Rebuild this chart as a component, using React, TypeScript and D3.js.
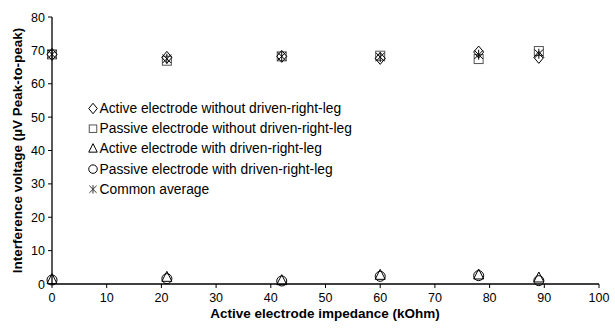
import React from "react";
import * as d3 from "d3";

const impedance = [0, 21, 42, 60, 78, 89];
const activeNoDRL = [68.8, 67.9, 68.2, 67.6, 69.5, 67.9];
const passiveNoDRL = [68.8, 66.9, 68.2, 68.4, 67.4, 69.8];
const activeDRL = [1.3, 2.0, 1.0, 2.6, 2.7, 1.8];
const passiveDRL = [1.2, 1.6, 0.9, 2.3, 2.5, 1.0];
const commonAverage = [68.8, 67.5, 68.2, 68.0, 68.7, 69.0];

const xTicks = [0, 10, 20, 30, 40, 50, 60, 70, 80, 90, 100];
const yTicks = [0, 10, 20, 30, 40, 50, 60, 70, 80];

const legendLabels = [
  "Active electrode without driven-right-leg",
  "Passive electrode without driven-right-leg",
  "Active electrode with driven-right-leg",
  "Passive electrode with driven-right-leg",
  "Common average",
];

type Kind = "diamond" | "square" | "triangle" | "circle" | "star";

const series: { kind: Kind; values: number[]; color: string }[] = [
  { kind: "square", values: passiveNoDRL, color: "#555" },
  { kind: "diamond", values: activeNoDRL, color: "#000" },
  { kind: "circle", values: passiveDRL, color: "#000" },
  { kind: "triangle", values: activeDRL, color: "#000" },
  { kind: "star", values: commonAverage, color: "#000" },
];

const legendKinds: Kind[] = ["diamond", "square", "triangle", "circle", "star"];
const legendColors = ["#000", "#555", "#000", "#000", "#333"];

function Marker({ kind, x, y, color, s = 1 }: { kind: Kind; x: number; y: number; color: string; s?: number }) {
  const r = 5 * s;
  const common = { fill: "none", stroke: color, strokeWidth: 1 };
  if (kind === "square") return <rect x={x - r + 0.5} y={y - r + 0.5} width={2 * r - 1} height={2 * r - 1} {...common} />;
  if (kind === "diamond") return <path d={`M${x},${y - r - 1}L${x + r},${y}L${x},${y + r + 1}L${x - r},${y}Z`} {...common} />;
  if (kind === "circle") return <circle cx={x} cy={y} r={r} {...common} />;
  if (kind === "triangle") return <path d={`M${x},${y - r - 1}L${x + r},${y + r - 1}L${x - r},${y + r - 1}Z`} {...common} />;
  const a = r * 0.85;
  return (
    <path
      d={`M${x - a},${y - a}L${x + a},${y + a}M${x - a},${y + a}L${x + a},${y - a}M${x},${y - r}L${x},${y + r}`}
      {...common}
    />
  );
}

export default function App() {
  const x = d3.scaleLinear().domain([0, 100]).range([52, 599]);
  const y = d3.scaleLinear().domain([0, 80]).range([284, 17]);
  const font = "Arial, 'Liberation Sans', sans-serif";
  return (
    <svg width={615} height={329} style={{ position: "absolute", left: 0, top: 0, background: "#fff" }} fontFamily={font}>
      <rect width={615} height={329} fill="#fff" />
      <line x1={x(0)} x2={x(100)} y1={y(0)} y2={y(0)} stroke="#000" strokeWidth={1.3} />
      <line x1={x(0)} x2={x(0)} y1={y(0)} y2={y(80)} stroke="#000" strokeWidth={1.3} />
      {xTicks.map((t) => (
        <g key={"x" + t}>
          <line x1={x(t)} x2={x(t)} y1={y(0)} y2={y(0) + 4} stroke="#000" />
          <text x={x(t)} y={y(0) + 18} textAnchor="middle" fontSize={12.5}>
            {t}
          </text>
        </g>
      ))}
      {yTicks.map((t) => (
        <g key={"y" + t}>
          <line x1={x(0) - 4} x2={x(0)} y1={y(t)} y2={y(t)} stroke="#000" />
          <text x={x(0) - 7} y={y(t) + 4.5} textAnchor="end" fontSize={12.5}>
            {t}
          </text>
        </g>
      ))}
      <text x={325} y={318} textAnchor="middle" fontSize={13.5} fontWeight="bold">
        Active electrode impedance (kOhm)
      </text>
      <text
        transform={`translate(22,${y(40)}) rotate(-90)`}
        textAnchor="middle"
        fontSize={13.5}
        fontWeight="bold"
      >
        Interference voltage (µV Peak-to-peak)
      </text>
      {series.map((s) =>
        s.values.map((v, i) => (
          <Marker key={s.kind + i} kind={s.kind} x={x(impedance[i])} y={y(v)} color={s.color} />
        ))
      )}
      {legendLabels.map((lab, i) => (
        <g key={lab}>
          <Marker kind={legendKinds[i]} x={93} y={113 + i * 20.2 - 4.5} color={legendColors[i]} s={0.85} />
          <text x={99.5} y={113 + i * 20.2} fontSize={13.8}>
            {lab}
          </text>
        </g>
      ))}
    </svg>
  );
}
